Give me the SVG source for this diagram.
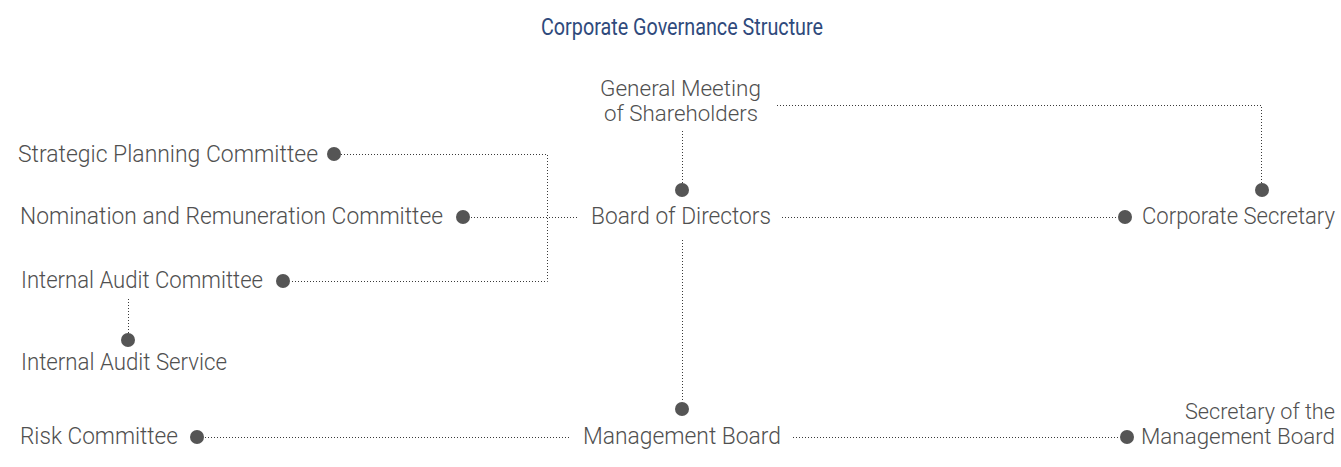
<svg xmlns="http://www.w3.org/2000/svg" width="1341" height="467" viewBox="0 0 1341 467">
<style>
  .t { font-family: Roboto, "Liberation Sans", sans-serif; font-weight: 300; font-size: 23px; fill: #505050; }
  .s { font-size: 22px; }
  .e { text-anchor: end; }
  .title { font-family: Roboto, "Liberation Sans", sans-serif; font-weight: 400; font-size: 23px; fill: #2f4a7c; }
  .dot { fill: #555555; }
  .c { fill: none; stroke: #3a3a3a; stroke-width: 1; stroke-dasharray: 1 2; }
</style>
<rect width="1341" height="467" fill="#ffffff"/>
<text class="title" x="541" y="35" textLength="282" lengthAdjust="spacingAndGlyphs">Corporate Governance Structure</text>

<g id="connectors">
  <path class="c" d="M777,105.5 H1261.5 V183"/>
  <path class="c" d="M682.5,131 V183"/>
  <path class="c" d="M577,217.5 H470"/>
  <path class="c" d="M341,154.5 H547.5 V281.5 H290"/>
  <path class="c" d="M782,217.5 H1118"/>
  <path class="c" d="M682.5,240 V402"/>
  <path class="c" d="M128.5,299 V333"/>
  <path class="c" d="M569,437.5 H204"/>
  <path class="c" d="M793,437.5 H1120"/>
</g>

<g id="general-meeting">
  <text class="t s" x="600" y="96" textLength="161" lengthAdjust="spacingAndGlyphs">General Meeting</text>
  <text class="t s" x="604" y="121" textLength="154" lengthAdjust="spacingAndGlyphs">of Shareholders</text>
</g>
<g id="board-of-directors">
  <circle class="dot" cx="682" cy="190" r="7"/>
  <text class="t" x="591" y="224" textLength="180" lengthAdjust="spacingAndGlyphs">Board of Directors</text>
</g>
<g id="corporate-secretary">
  <circle class="dot" cx="1262" cy="190" r="7"/>
  <circle class="dot" cx="1125" cy="217" r="7"/>
  <text class="t e" x="1335" y="224" textLength="193" lengthAdjust="spacingAndGlyphs">Corporate Secretary</text>
</g>
<g id="strategic-planning-committee">
  <text class="t" x="18" y="161.5" textLength="300" lengthAdjust="spacingAndGlyphs">Strategic Planning Committee</text>
  <circle class="dot" cx="334" cy="154" r="7"/>
</g>
<g id="nomination-remuneration-committee">
  <text class="t" x="20" y="224" textLength="423" lengthAdjust="spacingAndGlyphs">Nomination and Remuneration Committee</text>
  <circle class="dot" cx="463" cy="217" r="7"/>
</g>
<g id="internal-audit-committee">
  <text class="t" x="21" y="288" textLength="242" lengthAdjust="spacingAndGlyphs">Internal Audit Committee</text>
  <circle class="dot" cx="283" cy="281" r="7"/>
</g>
<g id="internal-audit-service">
  <circle class="dot" cx="128" cy="340" r="7"/>
  <text class="t" x="21" y="370" textLength="206" lengthAdjust="spacingAndGlyphs">Internal Audit Service</text>
</g>
<g id="risk-committee">
  <text class="t" x="20" y="444" textLength="158" lengthAdjust="spacingAndGlyphs">Risk Committee</text>
  <circle class="dot" cx="197" cy="437" r="7"/>
</g>
<g id="management-board">
  <circle class="dot" cx="682" cy="409" r="7"/>
  <text class="t" x="583" y="444" textLength="198" lengthAdjust="spacingAndGlyphs">Management Board</text>
</g>
<g id="secretary-management-board">
  <circle class="dot" cx="1127" cy="437" r="7"/>
  <text class="t s e" x="1335" y="419" textLength="150" lengthAdjust="spacingAndGlyphs">Secretary of the</text>
  <text class="t s e" x="1335" y="444" textLength="194" lengthAdjust="spacingAndGlyphs">Management Board</text>
</g>
</svg>
